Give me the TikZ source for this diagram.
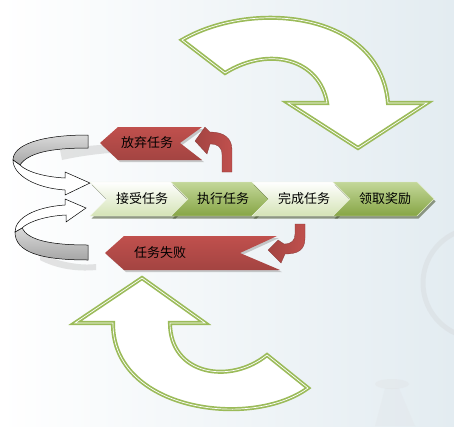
\documentclass[tikz,border=0pt]{standalone}
\usepackage{fontspec}
\newfontfamily\cjk{Noto Sans CJK SC}
\usepackage{tikz}
\usetikzlibrary{calc}
\definecolor{leafgreen}{HTML}{9BBB59}
\definecolor{palegreen}{HTML}{D4E3B5}
\definecolor{deepgreen}{HTML}{86A544}
\definecolor{brickred}{HTML}{C0504D}
\definecolor{rosered}{HTML}{E6A9A7}
\definecolor{bgblue}{HTML}{E3ECF1}
\tikzset{
  lbl/.style={font=\cjk\fontsize{13}{15}\selectfont, inner sep=0pt},
  lightchev/.style={top color=white, bottom color=palegreen, draw=white!85!leafgreen, line width=0.4pt},
  darkchev/.style={top color=palegreen!70!leafgreen, bottom color=deepgreen, draw=white!70!leafgreen, line width=0.4pt},
  chevshadow/.style={fill=black!60!leafgreen, opacity=0.55},
  redchev/.style={top color=brickred, middle color=rosered, bottom color=brickred!85!black},
  redbend/.style={left color=brickred!85!black, middle color=brickred!65!white, right color=brickred, draw=brickred!70!black, line width=0.3pt},
  bigarrow/.style={fill=white, draw=leafgreen, double=white, double distance=0.7pt, line width=1.7pt, line join=miter},
  ribbonback/.style={top color=black!15, bottom color=black!35, draw=black, line width=0.5pt},
  ribbonfront/.style={fill=white, draw=black, line width=0.5pt},
  ghost/.style={fill=black!30, opacity=0.35}
}
\begin{document}
\begin{tikzpicture}[x=1pt,y=-1pt]
  \useasboundingbox (0,0) rectangle (454,426);
  \shade[left color=white, right color=bgblue] (0,0) rectangle (454,426);% background
  \draw[black!20, line width=5pt, opacity=0.25] (478,283) circle (55);
  \fill[black!15, opacity=0.2] (392,384) ellipse (17 and 5);
  \fill[black!15, opacity=0.15] (385,388) -- (399,388) -- (415,426) -- (375,426) -- cycle;

  % big green arrows
  \path[bigarrow] (182,40) .. controls (250,0) and (380,10) .. (388,103)
    -- (427,103) -- (358,148) -- (288,103) -- (327,103)
    .. controls (320,60) and (270,45) .. (225,73) -- cycle;
  \path[bigarrow] (308,388) .. controls (250,430) and (112,410) .. (113,323)
    -- (75,323) -- (142,278) -- (205,323) -- (170,323)
    .. controls (170,375) and (230,385) .. (267,355) -- cycle;

  % grey ribbon arrows
  \fill[ghost] (60,150) .. controls (90,144) and (130,143) .. (140,146) -- (135,152) .. controls (110,152) and (85,155) .. (62,160) -- cycle;
  \fill[ghost] (40,254) .. controls (60,262) and (80,266) .. (96,264) -- (96,270) .. controls (75,272) and (55,268) .. (40,260) -- cycle;
  \path[ribbonback] (88,135) .. controls (40,135) and (13,145) .. (13,160)
    -- (20,165) .. controls (28,153) and (50,148) .. (88,148) -- cycle;
  \path[ribbonfront] (13,160) .. controls (13,175) and (35,188) .. (65,190)
    -- (65,195) -- (90,183) -- (65,172) -- (65,178)
    .. controls (45,177) and (27,172) .. (20,165) -- cycle;
  \path[ribbonback] (88,260) .. controls (40,260) and (15,252) .. (15,232)
    -- (22,228) .. controls (28,240) and (50,245) .. (88,245) -- cycle;
  \path[ribbonfront] (15,232) .. controls (15,218) and (35,207) .. (65,205)
    -- (65,199) -- (86,208) -- (66,222) -- (66,215)
    .. controls (45,216) and (28,222) .. (22,228) -- cycle;

  % process chevrons
  \foreach \i/\nm/\txt/\sty in {0/accept/接受任务/lightchev,1/execute/执行任务/darkchev,2/finish/完成任务/lightchev,3/reward/领取奖励/darkchev}{
    \pgfmathsetmacro\x{90+81*\i}
    \fill[chevshadow] (\x+1.5,184.5) -- ++(84,0) -- ++(17,17) -- ++(-17,17) -- ++(-84,0) -- ++(17,-17) -- cycle;
    \path[\sty] (\x,182) -- ++(84,0) -- ++(17,17) -- ++(-17,17) -- ++(-84,0) -- ++(17,-17) -- cycle;
    \node[lbl] (\nm) at (\x+52,199) {\txt};
  }

  % red branches
  \fill[black!40, opacity=0.5] (102,145) -- (120,129) -- (204,129) -- (182,145) -- (204,162) -- (120,162) -- cycle;
  \path[redchev] (100,143) -- (118,127) -- (202,127) -- (180,143) -- (202,160) -- (118,160) -- cycle;
  \node[lbl] (abandon) at (147,143) {放弃任务};
  \path[redbend] (222,172) -- (232,172) -- (232,150) .. controls (232,138) and (224,132) .. (210,132)
    -- (205,127) -- (195,141) -- (207,154) -- (210,144)
    .. controls (218,144) and (222,147) .. (222,155) -- cycle;

  \fill[black!40, opacity=0.5] (107,255) -- (126,238) -- (279,238) -- (242,255) -- (282,272) -- (126,272) -- cycle;
  \path[redchev] (105,253) -- (124,236) -- (277,236) -- (240,253) -- (280,270) -- (124,270) -- cycle;
  \node[lbl] (fail) at (160,253) {任务失败};
  \path[redbend] (295,224) -- (305,224) -- (305,238) .. controls (305,250) and (298,254) .. (285,254)
    -- (281,263) -- (268,250) -- (278,240) -- (284,244)
    .. controls (292,244) and (295,240) .. (295,234) -- cycle;
\end{tikzpicture}
\end{document}
